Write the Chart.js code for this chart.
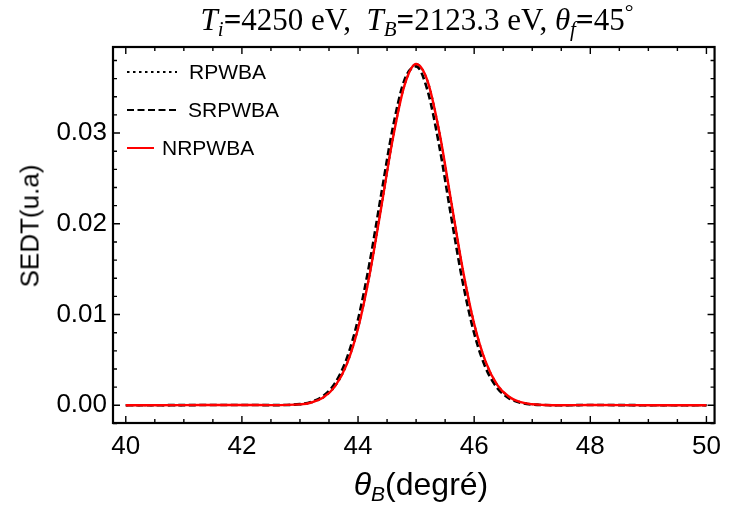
<!DOCTYPE html>
<html>
<head>
<meta charset="utf-8">
<script src="https://cdn.jsdelivr.net/npm/chart.js@4.4.1/dist/chart.umd.min.js"></script>
<style>
  body { margin: 0; background: #fff; }
  #wrap { position: relative; width: 729px; height: 511px; }
  .title {
    position: absolute; left: 417px; top: -1px; transform: translateX(-50%);
    font-family: "Liberation Serif", serif; font-size: 31px; white-space: nowrap; color: #000;
  }
  .title sub { font-size: 21px; vertical-align: -6px; line-height: 0; }
  .xlab {
    position: absolute; left: 421px; top: 466px; transform: translateX(-50%);
    font-family: "Liberation Sans", sans-serif; font-size: 32px; white-space: nowrap; color: #000;
  }
  .xlab sub { font-size: 21px; vertical-align: -6px; line-height: 0; }
  .ylab {
    position: absolute; left: 30px; top: 226px; transform: translate(-50%, -50%) rotate(-90deg);
    font-family: "Liberation Sans", sans-serif; font-size: 26px; white-space: nowrap; color: #000;
  }
</style>
</head>
<body>
<div id="wrap">
  <canvas id="sedtChart" width="729" height="511"></canvas>
  <div class="title"><i>T</i><sub><i>i</i></sub><b>=</b>4250 eV,&nbsp; <i>T</i><sub><i>B</i></sub><b>=</b>2123.3 eV, <i>θ</i><sub><i>f</i></sub><b>=</b>45<sup style="font-size:22px">°</sup></div>
  <div class="xlab"><i>θ</i><sub><i>B</i></sub>(degré)</div>
  <div class="ylab">SEDT(u.a)</div>
</div>
<script>
// angle theta_B (degrees)
const angles = [40, 41, 42, 42.5, 43, 43.2, 43.4, 43.6, 43.8, 44, 44.2, 44.4, 44.6, 44.8, 45,
  45.2, 45.4, 45.6, 45.8, 46, 46.2, 46.4, 46.6, 46.8, 47, 47.2, 47.5, 48, 49, 50];

const rpwba = [0, 0.00002, 0.00004, 0.00002, 0.0001, 0.00031, 0.00085, 0.00206, 0.00443, 0.00847,
  0.01442, 0.02183, 0.02941, 0.03525, 0.0376, 0.03567, 0.03011, 0.02261, 0.01511, 0.00898,
  0.00475, 0.00223, 0.00094, 0.00035, 0.00012, 0.00004, 0, 0.00003, 0.00001, 0];

const srpwba = [0, 0.00002, 0.00004, 0.00002, 0.00013, 0.00039, 0.00102, 0.00241, 0.00506, 0.00946,
  0.01573, 0.02327, 0.03062, 0.03586, 0.03735, 0.03462, 0.02855, 0.02094, 0.01367, 0.00794,
  0.0041, 0.00189, 0.00077, 0.00028, 0.00009, 0.00003, 0, 0.00003, 0.00001, 0];

const nrpwba = [0, 0.00002, 0.00004, 0.00002, 0.0001, 0.00031, 0.00085, 0.00206, 0.00443, 0.00847,
  0.01442, 0.02183, 0.02941, 0.03525, 0.0376, 0.03567, 0.03011, 0.02261, 0.01511, 0.00898,
  0.00475, 0.00223, 0.00094, 0.00035, 0.00012, 0.00004, 0, 0.00003, 0.00001, 0];

const xTicks = [40, 42, 44, 46, 48, 50];
const yTicks = [0, 0.01, 0.02, 0.03];
const seriesNames = ["RPWBA", "SRPWBA", "NRPWBA"];

const FONT = "'Liberation Sans', Arial, sans-serif";

function toPoints(values) {
    return angles.map((a, i) => ({ x: a, y: values[i] }));
}

// frame with inward ticks on all four sides, Mathematica style
const frameTicks = {
    id: "frameTicks",
    afterDraw(chart) {
        const { ctx, chartArea: a, scales: { x, y } } = chart;
        ctx.save();
        ctx.strokeStyle = "#000";
        ctx.lineWidth = 1.4;
        ctx.beginPath();
        for (let i = 0; i <= 20; i++) {
            const px = x.getPixelForValue(40 + i * 0.5);
            const len = i % 4 === 0 ? 7 : 4;
            ctx.moveTo(px, a.bottom); ctx.lineTo(px, a.bottom - len);
            ctx.moveTo(px, a.top); ctx.lineTo(px, a.top + len);
        }
        for (let k = -1; k <= 19; k++) {
            const py = y.getPixelForValue(k * 0.002);
            const len = k % 5 === 0 ? 7 : 4;
            ctx.moveTo(a.left, py); ctx.lineTo(a.left + len, py);
            ctx.moveTo(a.right, py); ctx.lineTo(a.right - len, py);
        }
        ctx.stroke();
        ctx.lineWidth = 2.2;
        ctx.strokeRect(a.left, a.top, a.right - a.left, a.bottom - a.top);
        ctx.restore();
    }
};

// legend in upper left corner
const cornerLegend = {
    id: "cornerLegend",
    afterDraw(chart) {
        const { ctx } = chart;
        const rows = [
            { y: 72, x0: 127, x1: 177, tx: 189 },
            { y: 110, x0: 127, x1: 177, tx: 188 },
            { y: 148, x0: 127, x1: 154, tx: 162 }
        ];
        ctx.save();
        ctx.font = "21px " + FONT;
        ctx.textBaseline = "middle";
        ctx.fillStyle = "#000";
        chart.data.datasets.forEach((ds, i) => {
            const r = rows[i];
            ctx.strokeStyle = ds.borderColor;
            ctx.lineWidth = 2;
            ctx.setLineDash(ds.borderDash || []);
            ctx.beginPath();
            ctx.moveTo(r.x0, r.y);
            ctx.lineTo(r.x1, r.y);
            ctx.stroke();
            ctx.fillText(ds.label, r.tx, r.y + 1);
        });
        ctx.restore();
    }
};

new Chart(document.getElementById("sedtChart"), {
    type: "line",
    data: {
        datasets: [
            {
                label: seriesNames[0],
                data: toPoints(rpwba),
                borderColor: "#000",
                borderWidth: 2,
                borderDash: [2.5, 3.5],
                order: 2
            },
            {
                label: seriesNames[1],
                data: toPoints(srpwba),
                borderColor: "#000",
                borderWidth: 2.6,
                borderDash: [7, 3.5],
                order: 1
            },
            {
                label: seriesNames[2],
                data: toPoints(nrpwba),
                borderColor: "#ff0000",
                borderWidth: 2.4,
                order: 0
            }
        ]
    },
    options: {
        responsive: false,
        animation: false,
        devicePixelRatio: 1,
        layout: { padding: { top: 47, right: 8, left: 0, bottom: 0 } },
        elements: {
            point: { radius: 0 },
            line: { cubicInterpolationMode: "monotone", fill: false }
        },
        plugins: {
            legend: { display: false },
            tooltip: { enabled: false },
            title: { display: false }
        },
        scales: {
            x: {
                type: "linear",
                min: 39.78,
                max: 50.14,
                afterBuildTicks: s => { s.ticks = xTicks.map(v => ({ value: v })); },
                afterFit: s => { s.height = 88; },
                grid: { display: false, drawTicks: false },
                border: { display: false },
                ticks: {
                    color: "#000",
                    font: { family: FONT, size: 26 },
                    padding: 8,
                    maxRotation: 0,
                    autoSkip: false
                }
            },
            y: {
                min: -0.00195,
                max: 0.03948,
                afterBuildTicks: s => { s.ticks = yTicks.map(v => ({ value: v })); },
                afterFit: s => { s.width = 113; },
                grid: { display: false, drawTicks: false },
                border: { display: false },
                ticks: {
                    color: "#000",
                    font: { family: FONT, size: 26 },
                    padding: 6,
                    autoSkip: false,
                    callback: v => v.toFixed(2)
                }
            }
        }
    },
    plugins: [frameTicks, cornerLegend]
});
</script>
</body>
</html>
